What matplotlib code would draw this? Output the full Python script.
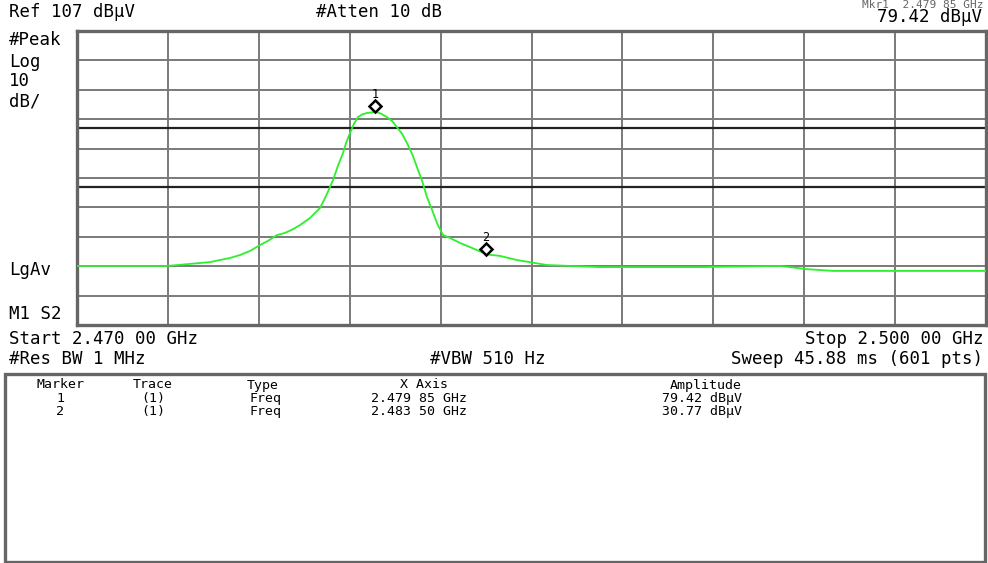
import matplotlib
matplotlib.use('Agg')
import matplotlib.pyplot as plt
from matplotlib.patches import Rectangle
from matplotlib.transforms import offset_copy

W, H = 988, 563

# trace (GHz, dBuV)
freq_ghz = [2.47000, 2.47300, 2.47439, 2.47505, 2.47538, 2.47571, 2.47604, 2.47630,
            2.47660, 2.47686, 2.47713, 2.47736, 2.47769, 2.47802, 2.47822, 2.47845,
            2.47861, 2.47878, 2.47888, 2.47901, 2.47914, 2.47927, 2.47941, 2.47957,
            2.47970, 2.47987, 2.48003, 2.48023, 2.48040, 2.48056, 2.48073, 2.48089,
            2.48106, 2.48122, 2.48139, 2.48155, 2.48172, 2.48188, 2.48198, 2.48208,
            2.48231, 2.48264, 2.48297, 2.48353, 2.48396, 2.48452, 2.48551, 2.48726,
            2.49056, 2.49320, 2.49409, 2.49495, 2.50000]
level_dbuv = [27.1, 27.1, 28.4, 29.8, 30.8, 32.2, 34.2, 35.6,
              37.6, 38.3, 39.6, 41.0, 43.4, 46.8, 50.9, 56.3,
              61.1, 65.5, 68.9, 72.3, 75.4, 77.7, 78.6, 79.1,
              79.3, 79.42, 78.9, 77.7, 76.4, 74.3, 72.0, 68.9,
              65.2, 60.7, 56.0, 50.5, 46.1, 41.7, 39.6, 37.6,
              36.6, 34.9, 33.5, 31.0, 30.5, 29.1, 27.4, 26.7,
              26.7, 27.1, 26.0, 25.4, 25.4]

marker_ids = ['1', '2']
marker_freq = [2.47985, 2.48350]
marker_amp = [79.42, 30.77]
marker_freq_txt = ['2.479 85 GHz', '2.483 50 GHz']
marker_amp_txt = ['79.42 dBµV', '30.77 dBµV']

limit_lines = [74, 54]
ref_level = 107
db_per_div = 10
start_ghz, stop_ghz = 2.470, 2.500

plt.rcParams['font.family'] = 'DejaVu Sans Mono'

fig = plt.figure(figsize=(W / 100, H / 100), dpi=100)
fig.patch.set_facecolor('white')


def fx(x):
    return x / W


def fy(y):
    return 1 - y / H


ax = fig.add_axes([fx(77), fy(325), (986 - 77) / W, (325 - 31) / H])
ax.set_xlim(start_ghz, stop_ghz)
ax.set_ylim(ref_level - 10 * db_per_div, ref_level)

# graticule
for i in range(1, 10):
    ax.axvline(start_ghz + i * (stop_ghz - start_ghz) / 10, color='#7a7a7a', lw=1.4, zorder=1)
    ax.axhline(ref_level - i * db_per_div, color='#7a7a7a', lw=1.4, zorder=1)
for lv in limit_lines:
    ax.axhline(lv, color='#222222', lw=1.6, zorder=2)

ax.plot(freq_ghz, level_dbuv, color='#2bf02b', lw=1.3, zorder=3)

# markers sit a few pixels above the trace point
mk_tr = offset_copy(ax.transData, fig=fig, y=6, units='dots')
ax.plot(marker_freq, marker_amp, linestyle='none', marker='D', markersize=6.5,
        markerfacecolor='white', markeredgecolor='black', markeredgewidth=1.8,
        transform=mk_tr, zorder=4)
for mid, f, a in zip(marker_ids, marker_freq, marker_amp):
    ax.annotate(mid, (f, a), xytext=(0, 18), textcoords='offset pixels',
                ha='center', va='center', fontsize=8.5, zorder=4)

ax.set_xticks([])
ax.set_yticks([])
for sp in ax.spines.values():
    sp.set_color('#666666')
    sp.set_linewidth(2.4)

# annotation text around the screen
fs = 12.5
fig.text(fx(983), fy(4.5), 'Mkr1  2.479 85 GHz', ha='right', va='center', fontsize=8, color='#666666')
fig.text(fx(9), fy(12), 'Ref 107 dBµV', ha='left', va='center', fontsize=fs)
fig.text(fx(316), fy(12), '#Atten 10 dB', ha='left', va='center', fontsize=fs)
fig.text(fx(982), fy(17), '79.42 dBµV', ha='right', va='center', fontsize=fs)
fig.text(fx(9), fy(40), '#Peak', ha='left', va='center', fontsize=fs)
fig.text(fx(9), fy(62), 'Log', ha='left', va='center', fontsize=fs)
fig.text(fx(9), fy(81), '10', ha='left', va='center', fontsize=fs)
fig.text(fx(9), fy(102), 'dB/', ha='left', va='center', fontsize=fs)
fig.text(fx(9), fy(270), 'LgAv', ha='left', va='center', fontsize=fs)
fig.text(fx(9), fy(314), 'M1 S2', ha='left', va='center', fontsize=fs)
fig.text(fx(9), fy(339), 'Start 2.470 00 GHz', ha='left', va='center', fontsize=fs)
fig.text(fx(983), fy(339), 'Stop 2.500 00 GHz', ha='right', va='center', fontsize=fs)
fig.text(fx(9), fy(359), '#Res BW 1 MHz', ha='left', va='center', fontsize=fs)
fig.text(fx(430), fy(359), '#VBW 510 Hz', ha='left', va='center', fontsize=fs)
fig.text(fx(983), fy(359), 'Sweep 45.88 ms (601 pts)', ha='right', va='center', fontsize=fs)

# marker table box
fig.patches.append(Rectangle((fx(5), fy(562)), (985 - 5) / W, (562 - 374) / H,
                             transform=fig.transFigure, fill=False,
                             edgecolor='#666666', lw=2.4))

tfs = 9.5
fig.text(fx(60), fy(385), 'Marker', ha='center', va='center', fontsize=tfs)
fig.text(fx(153), fy(385), 'Trace', ha='center', va='center', fontsize=tfs)
fig.text(fx(247), fy(385), 'Type', ha='left', va='center', fontsize=tfs)
fig.text(fx(424), fy(385), 'X Axis', ha='center', va='center', fontsize=tfs)
fig.text(fx(742), fy(385), 'Amplitude', ha='right', va='center', fontsize=tfs)
for i, mid in enumerate(marker_ids):
    y = 398.5 + 13 * i
    fig.text(fx(60), fy(y), mid, ha='center', va='center', fontsize=tfs)
    fig.text(fx(153), fy(y), '(1)', ha='center', va='center', fontsize=tfs)
    fig.text(fx(249), fy(y), 'Freq', ha='left', va='center', fontsize=tfs)
    fig.text(fx(371), fy(y), marker_freq_txt[i], ha='left', va='center', fontsize=tfs)
    fig.text(fx(742), fy(y), marker_amp_txt[i], ha='right', va='center', fontsize=tfs)

fig.savefig('out.png', dpi=100)
